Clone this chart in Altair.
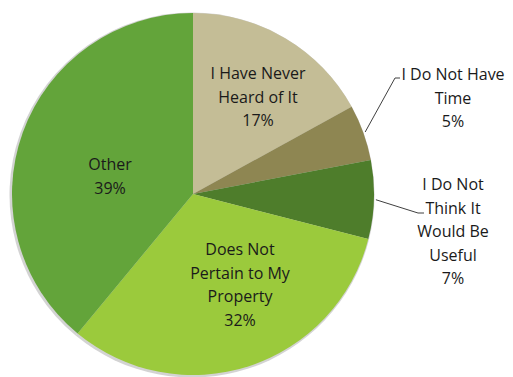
import altair as alt
import pandas as pd
import numpy as np

# ---- data ----
categories = [
    "I Have Never Heard of It",
    "I Do Not Have Time",
    "I Do Not Think It Would Be Useful",
    "Does Not Pertain to My Property",
    "Other",
]
label_text = [
    "I Have Never\nHeard of It\n17%",
    "I Do Not Have\nTime\n5%",
    "I Do Not\nThink It\nWould Be\nUseful\n7%",
    "Does Not\nPertain to My\nProperty\n32%",
    "Other\n39%",
]
values = [17, 5, 7, 32, 39]

# ---- style / layout ----
colors = ["#C4BD96", "#8E8652", "#4E7D2B", "#9BCA3C", "#63A43A"]
CX, CY, R = 193, 194, 181
label_x = [258, 453, 453, 240, 110]
label_y = [74, 75, 185, 250, 165]   # first-line centres
outer = [False, True, True, False, False]
elbow_x = [None, 395, 418, None, None]
elbow_y = [None, 78, 213, None, None]
tick_end_x = [None, 400, 424, None, None]

df = pd.DataFrame({
    "category": categories,
    "value": values,
    "order": list(range(len(values))),
})

scale_color = alt.Scale(domain=categories, range=colors)

shadow = alt.Chart(df).mark_arc(outerRadius=R + 1.5, color="#c8c8c8", opacity=0.8).encode(
    theta=alt.Theta("value:Q", stack=True),
    order=alt.Order("order:Q"),
    x=alt.value(CX - 1),
    y=alt.value(CY + 1),
)

arcs = alt.Chart(df).mark_arc(outerRadius=R, strokeWidth=0).encode(
    theta=alt.Theta("value:Q", stack=True),
    order=alt.Order("order:Q"),
    color=alt.Color("category:N", scale=scale_color, legend=None),
    x=alt.value(CX),
    y=alt.value(CY),
)

lab = pd.DataFrame({"text": label_text, "x": label_x, "y": label_y})
texts = alt.Chart(lab).mark_text(
    font="Open Sans", fontSize=16, lineBreak="\n", lineHeight=23.5,
    align="center", baseline="middle", color="#1a1a1a",
).encode(
    x=alt.X("x:Q", scale=None),
    y=alt.Y("y:Q", scale=None),
    text="text:N",
)

# leader lines, starting at slice mid angle just outside the pie edge
tot = float(sum(values))
cum = np.cumsum([0] + values)
pts = []
for i in range(len(values)):
    if not outer[i]:
        continue
    mid = (cum[i] + values[i] / 2) / tot * 2 * np.pi
    sx = CX + (R + 2) * np.sin(mid)
    sy = CY - (R + 2) * np.cos(mid)
    pts.append({"id": i, "k": 0, "x": sx, "y": sy})
    pts.append({"id": i, "k": 1, "x": elbow_x[i], "y": elbow_y[i]})
    pts.append({"id": i, "k": 2, "x": tick_end_x[i], "y": elbow_y[i]})
pts_df = pd.DataFrame(pts)
leaders = alt.Chart(pts_df).mark_line(color="#404040", strokeWidth=1).encode(
    x=alt.X("x:Q", scale=None),
    y=alt.Y("y:Q", scale=None),
    detail="id:N",
    order="k:Q",
)

chart = alt.layer(shadow, arcs, leaders, texts).properties(
    width=513, height=377, autosize="none", padding=0,
).configure_view(stroke=None)

chart.save("out.html", embed_options={"renderer": "svg", "actions": False})
